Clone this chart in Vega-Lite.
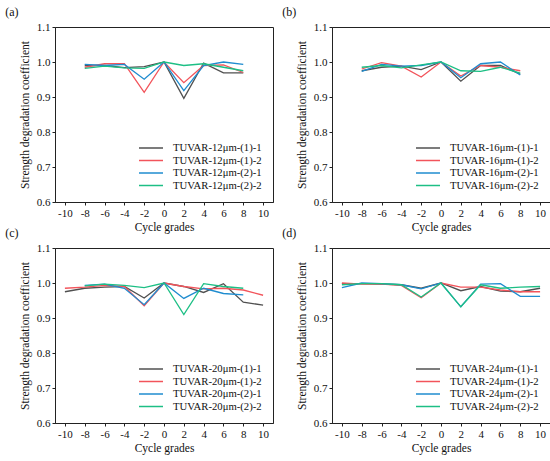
{
  "$schema": "https://vega.github.io/schema/vega-lite/v6.json",
  "padding": {"left": 4, "top": 5, "right": 3, "bottom": 3},
  "data": {
    "values": [
      {"p": "a", "s": "TUVAR-12μm-(1)-1", "x": -8, "y": 0.99},
      {"p": "a", "s": "TUVAR-12μm-(1)-1", "x": -6, "y": 0.99},
      {"p": "a", "s": "TUVAR-12μm-(1)-1", "x": -4, "y": 0.984},
      {"p": "a", "s": "TUVAR-12μm-(1)-1", "x": -2, "y": 0.987},
      {"p": "a", "s": "TUVAR-12μm-(1)-1", "x": 0, "y": 1.0},
      {"p": "a", "s": "TUVAR-12μm-(1)-1", "x": 2, "y": 0.896},
      {"p": "a", "s": "TUVAR-12μm-(1)-1", "x": 4, "y": 0.997},
      {"p": "a", "s": "TUVAR-12μm-(1)-1", "x": 6, "y": 0.969},
      {"p": "a", "s": "TUVAR-12μm-(1)-1", "x": 8, "y": 0.969},
      {"p": "a", "s": "TUVAR-12μm-(1)-2", "x": -8, "y": 0.985},
      {"p": "a", "s": "TUVAR-12μm-(1)-2", "x": -6, "y": 0.995},
      {"p": "a", "s": "TUVAR-12μm-(1)-2", "x": -4, "y": 0.995},
      {"p": "a", "s": "TUVAR-12μm-(1)-2", "x": -2, "y": 0.913},
      {"p": "a", "s": "TUVAR-12μm-(1)-2", "x": 0, "y": 1.0},
      {"p": "a", "s": "TUVAR-12μm-(1)-2", "x": 2, "y": 0.941},
      {"p": "a", "s": "TUVAR-12μm-(1)-2", "x": 4, "y": 0.99},
      {"p": "a", "s": "TUVAR-12μm-(1)-2", "x": 6, "y": 0.992},
      {"p": "a", "s": "TUVAR-12μm-(1)-2", "x": 8, "y": 0.97},
      {"p": "a", "s": "TUVAR-12μm-(2)-1", "x": -8, "y": 0.993},
      {"p": "a", "s": "TUVAR-12μm-(2)-1", "x": -6, "y": 0.99},
      {"p": "a", "s": "TUVAR-12μm-(2)-1", "x": -4, "y": 0.993},
      {"p": "a", "s": "TUVAR-12μm-(2)-1", "x": -2, "y": 0.951},
      {"p": "a", "s": "TUVAR-12μm-(2)-1", "x": 0, "y": 1.0},
      {"p": "a", "s": "TUVAR-12μm-(2)-1", "x": 2, "y": 0.918},
      {"p": "a", "s": "TUVAR-12μm-(2)-1", "x": 4, "y": 0.99},
      {"p": "a", "s": "TUVAR-12μm-(2)-1", "x": 6, "y": 1.0},
      {"p": "a", "s": "TUVAR-12μm-(2)-1", "x": 8, "y": 0.993},
      {"p": "a", "s": "TUVAR-12μm-(2)-2", "x": -8, "y": 0.982},
      {"p": "a", "s": "TUVAR-12μm-(2)-2", "x": -6, "y": 0.988},
      {"p": "a", "s": "TUVAR-12μm-(2)-2", "x": -4, "y": 0.983},
      {"p": "a", "s": "TUVAR-12μm-(2)-2", "x": -2, "y": 0.982},
      {"p": "a", "s": "TUVAR-12μm-(2)-2", "x": 0, "y": 1.0},
      {"p": "a", "s": "TUVAR-12μm-(2)-2", "x": 2, "y": 0.99},
      {"p": "a", "s": "TUVAR-12μm-(2)-2", "x": 4, "y": 0.995},
      {"p": "a", "s": "TUVAR-12μm-(2)-2", "x": 6, "y": 0.985},
      {"p": "a", "s": "TUVAR-12μm-(2)-2", "x": 8, "y": 0.975},

      {"p": "b", "s": "TUVAR-16μm-(1)-1", "x": -8, "y": 0.975},
      {"p": "b", "s": "TUVAR-16μm-(1)-1", "x": -6, "y": 0.985},
      {"p": "b", "s": "TUVAR-16μm-(1)-1", "x": -4, "y": 0.988},
      {"p": "b", "s": "TUVAR-16μm-(1)-1", "x": -2, "y": 0.978},
      {"p": "b", "s": "TUVAR-16μm-(1)-1", "x": 0, "y": 1.0},
      {"p": "b", "s": "TUVAR-16μm-(1)-1", "x": 2, "y": 0.945},
      {"p": "b", "s": "TUVAR-16μm-(1)-1", "x": 4, "y": 0.99},
      {"p": "b", "s": "TUVAR-16μm-(1)-1", "x": 6, "y": 0.99},
      {"p": "b", "s": "TUVAR-16μm-(1)-1", "x": 8, "y": 0.965},
      {"p": "b", "s": "TUVAR-16μm-(1)-2", "x": -8, "y": 0.98},
      {"p": "b", "s": "TUVAR-16μm-(1)-2", "x": -6, "y": 0.998},
      {"p": "b", "s": "TUVAR-16μm-(1)-2", "x": -4, "y": 0.988},
      {"p": "b", "s": "TUVAR-16μm-(1)-2", "x": -2, "y": 0.957},
      {"p": "b", "s": "TUVAR-16μm-(1)-2", "x": 0, "y": 1.0},
      {"p": "b", "s": "TUVAR-16μm-(1)-2", "x": 2, "y": 0.96},
      {"p": "b", "s": "TUVAR-16μm-(1)-2", "x": 4, "y": 0.99},
      {"p": "b", "s": "TUVAR-16μm-(1)-2", "x": 6, "y": 0.985},
      {"p": "b", "s": "TUVAR-16μm-(1)-2", "x": 8, "y": 0.975},
      {"p": "b", "s": "TUVAR-16μm-(2)-1", "x": -8, "y": 0.973},
      {"p": "b", "s": "TUVAR-16μm-(2)-1", "x": -6, "y": 0.993},
      {"p": "b", "s": "TUVAR-16μm-(2)-1", "x": -4, "y": 0.988},
      {"p": "b", "s": "TUVAR-16μm-(2)-1", "x": -2, "y": 0.99},
      {"p": "b", "s": "TUVAR-16μm-(2)-1", "x": 0, "y": 1.0},
      {"p": "b", "s": "TUVAR-16μm-(2)-1", "x": 2, "y": 0.955},
      {"p": "b", "s": "TUVAR-16μm-(2)-1", "x": 4, "y": 0.995},
      {"p": "b", "s": "TUVAR-16μm-(2)-1", "x": 6, "y": 1.0},
      {"p": "b", "s": "TUVAR-16μm-(2)-1", "x": 8, "y": 0.963},
      {"p": "b", "s": "TUVAR-16μm-(2)-2", "x": -8, "y": 0.985},
      {"p": "b", "s": "TUVAR-16μm-(2)-2", "x": -6, "y": 0.99},
      {"p": "b", "s": "TUVAR-16μm-(2)-2", "x": -4, "y": 0.983},
      {"p": "b", "s": "TUVAR-16μm-(2)-2", "x": -2, "y": 0.992},
      {"p": "b", "s": "TUVAR-16μm-(2)-2", "x": 0, "y": 1.0},
      {"p": "b", "s": "TUVAR-16μm-(2)-2", "x": 2, "y": 0.975},
      {"p": "b", "s": "TUVAR-16μm-(2)-2", "x": 4, "y": 0.973},
      {"p": "b", "s": "TUVAR-16μm-(2)-2", "x": 6, "y": 0.985},
      {"p": "b", "s": "TUVAR-16μm-(2)-2", "x": 8, "y": 0.968},

      {"p": "c", "s": "TUVAR-20μm-(1)-1", "x": -10, "y": 0.975},
      {"p": "c", "s": "TUVAR-20μm-(1)-1", "x": -8, "y": 0.985},
      {"p": "c", "s": "TUVAR-20μm-(1)-1", "x": -6, "y": 0.988},
      {"p": "c", "s": "TUVAR-20μm-(1)-1", "x": -4, "y": 0.99},
      {"p": "c", "s": "TUVAR-20μm-(1)-1", "x": -2, "y": 0.957},
      {"p": "c", "s": "TUVAR-20μm-(1)-1", "x": 0, "y": 1.0},
      {"p": "c", "s": "TUVAR-20μm-(1)-1", "x": 2, "y": 0.99},
      {"p": "c", "s": "TUVAR-20μm-(1)-1", "x": 4, "y": 0.973},
      {"p": "c", "s": "TUVAR-20μm-(1)-1", "x": 6, "y": 0.998},
      {"p": "c", "s": "TUVAR-20μm-(1)-1", "x": 8, "y": 0.945},
      {"p": "c", "s": "TUVAR-20μm-(1)-1", "x": 10, "y": 0.937},
      {"p": "c", "s": "TUVAR-20μm-(1)-2", "x": -10, "y": 0.985},
      {"p": "c", "s": "TUVAR-20μm-(1)-2", "x": -8, "y": 0.988},
      {"p": "c", "s": "TUVAR-20μm-(1)-2", "x": -6, "y": 0.993},
      {"p": "c", "s": "TUVAR-20μm-(1)-2", "x": -4, "y": 0.99},
      {"p": "c", "s": "TUVAR-20μm-(1)-2", "x": -2, "y": 0.935},
      {"p": "c", "s": "TUVAR-20μm-(1)-2", "x": 0, "y": 1.0},
      {"p": "c", "s": "TUVAR-20μm-(1)-2", "x": 2, "y": 0.99},
      {"p": "c", "s": "TUVAR-20μm-(1)-2", "x": 4, "y": 0.983},
      {"p": "c", "s": "TUVAR-20μm-(1)-2", "x": 6, "y": 0.985},
      {"p": "c", "s": "TUVAR-20μm-(1)-2", "x": 8, "y": 0.98},
      {"p": "c", "s": "TUVAR-20μm-(1)-2", "x": 10, "y": 0.965},
      {"p": "c", "s": "TUVAR-20μm-(2)-1", "x": -8, "y": 0.993},
      {"p": "c", "s": "TUVAR-20μm-(2)-1", "x": -6, "y": 0.997},
      {"p": "c", "s": "TUVAR-20μm-(2)-1", "x": -4, "y": 0.985},
      {"p": "c", "s": "TUVAR-20μm-(2)-1", "x": -2, "y": 0.938},
      {"p": "c", "s": "TUVAR-20μm-(2)-1", "x": 0, "y": 1.0},
      {"p": "c", "s": "TUVAR-20μm-(2)-1", "x": 2, "y": 0.956},
      {"p": "c", "s": "TUVAR-20μm-(2)-1", "x": 4, "y": 0.985},
      {"p": "c", "s": "TUVAR-20μm-(2)-1", "x": 6, "y": 0.97},
      {"p": "c", "s": "TUVAR-20μm-(2)-1", "x": 8, "y": 0.966},
      {"p": "c", "s": "TUVAR-20μm-(2)-2", "x": -8, "y": 0.992},
      {"p": "c", "s": "TUVAR-20μm-(2)-2", "x": -6, "y": 0.997},
      {"p": "c", "s": "TUVAR-20μm-(2)-2", "x": -4, "y": 0.993},
      {"p": "c", "s": "TUVAR-20μm-(2)-2", "x": -2, "y": 0.987},
      {"p": "c", "s": "TUVAR-20μm-(2)-2", "x": 0, "y": 1.0},
      {"p": "c", "s": "TUVAR-20μm-(2)-2", "x": 2, "y": 0.91},
      {"p": "c", "s": "TUVAR-20μm-(2)-2", "x": 4, "y": 0.998},
      {"p": "c", "s": "TUVAR-20μm-(2)-2", "x": 6, "y": 0.99},
      {"p": "c", "s": "TUVAR-20μm-(2)-2", "x": 8, "y": 0.985},

      {"p": "d", "s": "TUVAR-24μm-(1)-1", "x": -10, "y": 0.998},
      {"p": "d", "s": "TUVAR-24μm-(1)-1", "x": -8, "y": 0.998},
      {"p": "d", "s": "TUVAR-24μm-(1)-1", "x": -6, "y": 0.997},
      {"p": "d", "s": "TUVAR-24μm-(1)-1", "x": -4, "y": 0.995},
      {"p": "d", "s": "TUVAR-24μm-(1)-1", "x": -2, "y": 0.985},
      {"p": "d", "s": "TUVAR-24μm-(1)-1", "x": 0, "y": 1.0},
      {"p": "d", "s": "TUVAR-24μm-(1)-1", "x": 2, "y": 0.978},
      {"p": "d", "s": "TUVAR-24μm-(1)-1", "x": 4, "y": 0.99},
      {"p": "d", "s": "TUVAR-24μm-(1)-1", "x": 6, "y": 0.977},
      {"p": "d", "s": "TUVAR-24μm-(1)-1", "x": 8, "y": 0.975},
      {"p": "d", "s": "TUVAR-24μm-(1)-1", "x": 10, "y": 0.985},
      {"p": "d", "s": "TUVAR-24μm-(1)-2", "x": -10, "y": 1.0},
      {"p": "d", "s": "TUVAR-24μm-(1)-2", "x": -8, "y": 0.997},
      {"p": "d", "s": "TUVAR-24μm-(1)-2", "x": -6, "y": 0.997},
      {"p": "d", "s": "TUVAR-24μm-(1)-2", "x": -4, "y": 0.993},
      {"p": "d", "s": "TUVAR-24μm-(1)-2", "x": -2, "y": 0.958},
      {"p": "d", "s": "TUVAR-24μm-(1)-2", "x": 0, "y": 1.0},
      {"p": "d", "s": "TUVAR-24μm-(1)-2", "x": 2, "y": 0.988},
      {"p": "d", "s": "TUVAR-24μm-(1)-2", "x": 4, "y": 0.988},
      {"p": "d", "s": "TUVAR-24μm-(1)-2", "x": 6, "y": 0.98},
      {"p": "d", "s": "TUVAR-24μm-(1)-2", "x": 8, "y": 0.975},
      {"p": "d", "s": "TUVAR-24μm-(1)-2", "x": 10, "y": 0.975},
      {"p": "d", "s": "TUVAR-24μm-(2)-1", "x": -10, "y": 0.987},
      {"p": "d", "s": "TUVAR-24μm-(2)-1", "x": -8, "y": 1.0},
      {"p": "d", "s": "TUVAR-24μm-(2)-1", "x": -6, "y": 0.998},
      {"p": "d", "s": "TUVAR-24μm-(2)-1", "x": -4, "y": 0.995},
      {"p": "d", "s": "TUVAR-24μm-(2)-1", "x": -2, "y": 0.983},
      {"p": "d", "s": "TUVAR-24μm-(2)-1", "x": 0, "y": 1.0},
      {"p": "d", "s": "TUVAR-24μm-(2)-1", "x": 2, "y": 0.932},
      {"p": "d", "s": "TUVAR-24μm-(2)-1", "x": 4, "y": 0.997},
      {"p": "d", "s": "TUVAR-24μm-(2)-1", "x": 6, "y": 0.998},
      {"p": "d", "s": "TUVAR-24μm-(2)-1", "x": 8, "y": 0.962},
      {"p": "d", "s": "TUVAR-24μm-(2)-1", "x": 10, "y": 0.962},
      {"p": "d", "s": "TUVAR-24μm-(2)-2", "x": -10, "y": 0.995},
      {"p": "d", "s": "TUVAR-24μm-(2)-2", "x": -8, "y": 0.998},
      {"p": "d", "s": "TUVAR-24μm-(2)-2", "x": -6, "y": 0.998},
      {"p": "d", "s": "TUVAR-24μm-(2)-2", "x": -4, "y": 0.995},
      {"p": "d", "s": "TUVAR-24μm-(2)-2", "x": -2, "y": 0.96},
      {"p": "d", "s": "TUVAR-24μm-(2)-2", "x": 0, "y": 1.0},
      {"p": "d", "s": "TUVAR-24μm-(2)-2", "x": 2, "y": 0.932},
      {"p": "d", "s": "TUVAR-24μm-(2)-2", "x": 4, "y": 0.995},
      {"p": "d", "s": "TUVAR-24μm-(2)-2", "x": 6, "y": 0.985},
      {"p": "d", "s": "TUVAR-24μm-(2)-2", "x": 8, "y": 0.988},
      {"p": "d", "s": "TUVAR-24μm-(2)-2", "x": 10, "y": 0.99}
    ]
  },
  "spacing": -7,
  "resolve": {"scale": {"color": "independent"}, "legend": {"color": "independent"}},
  "vconcat": [
    {
      "spacing": 7,
      "resolve": {"scale": {"color": "independent"}, "legend": {"color": "independent"}},
      "hconcat": [
        {
          "width": 218, "height": 175,
          "title": "(a)",
          "transform": [{"filter": "datum.p == 'a'"}],
          "mark": {"type": "line", "strokeWidth": 1.3},
          "encoding": {
            "x": {"field": "x", "type": "quantitative", "scale": {"domain": [-11, 11]}, "axis": {"values": [-10, -8, -6, -4, -2, 0, 2, 4, 6, 8, 10], "labelExpr": "datum.value + ''", "title": "Cycle grades"}},
            "y": {"field": "y", "type": "quantitative", "scale": {"domain": [0.6, 1.1]}, "axis": {"values": [0.6, 0.7, 0.8, 0.9, 1.0, 1.1], "format": ".1f", "title": "Strength degradation coefficient"}},
            "color": {"field": "s", "type": "nominal", "title": null,
              "scale": {"domain": ["TUVAR-12μm-(1)-1", "TUVAR-12μm-(1)-2", "TUVAR-12μm-(2)-1", "TUVAR-12μm-(2)-2"], "range": ["#505050", "#f2545b", "#1f8ccf", "#1dbf85"]}}
          }
        },
        {
          "width": 218, "height": 175,
          "title": "(b)",
          "transform": [{"filter": "datum.p == 'b'"}],
          "mark": {"type": "line", "strokeWidth": 1.3},
          "encoding": {
            "x": {"field": "x", "type": "quantitative", "scale": {"domain": [-11, 11]}, "axis": {"values": [-10, -8, -6, -4, -2, 0, 2, 4, 6, 8, 10], "labelExpr": "datum.value + ''", "title": "Cycle grades"}},
            "y": {"field": "y", "type": "quantitative", "scale": {"domain": [0.6, 1.1]}, "axis": {"values": [0.6, 0.7, 0.8, 0.9, 1.0, 1.1], "format": ".1f", "title": "Strength degradation coefficient"}},
            "color": {"field": "s", "type": "nominal", "title": null,
              "scale": {"domain": ["TUVAR-16μm-(1)-1", "TUVAR-16μm-(1)-2", "TUVAR-16μm-(2)-1", "TUVAR-16μm-(2)-2"], "range": ["#505050", "#f2545b", "#1f8ccf", "#1dbf85"]}}
          }
        }
      ]
    },
    {
      "spacing": 7,
      "resolve": {"scale": {"color": "independent"}, "legend": {"color": "independent"}},
      "hconcat": [
        {
          "width": 218, "height": 175,
          "title": "(c)",
          "transform": [{"filter": "datum.p == 'c'"}],
          "mark": {"type": "line", "strokeWidth": 1.3},
          "encoding": {
            "x": {"field": "x", "type": "quantitative", "scale": {"domain": [-11, 11]}, "axis": {"values": [-10, -8, -6, -4, -2, 0, 2, 4, 6, 8, 10], "labelExpr": "datum.value + ''", "title": "Cycle grades"}},
            "y": {"field": "y", "type": "quantitative", "scale": {"domain": [0.6, 1.1]}, "axis": {"values": [0.6, 0.7, 0.8, 0.9, 1.0, 1.1], "format": ".1f", "title": "Strength degradation coefficient"}},
            "color": {"field": "s", "type": "nominal", "title": null,
              "scale": {"domain": ["TUVAR-20μm-(1)-1", "TUVAR-20μm-(1)-2", "TUVAR-20μm-(2)-1", "TUVAR-20μm-(2)-2"], "range": ["#505050", "#f2545b", "#1f8ccf", "#1dbf85"]}}
          }
        },
        {
          "width": 218, "height": 175,
          "title": "(d)",
          "transform": [{"filter": "datum.p == 'd'"}],
          "mark": {"type": "line", "strokeWidth": 1.3},
          "encoding": {
            "x": {"field": "x", "type": "quantitative", "scale": {"domain": [-11, 11]}, "axis": {"values": [-10, -8, -6, -4, -2, 0, 2, 4, 6, 8, 10], "labelExpr": "datum.value + ''", "title": "Cycle grades"}},
            "y": {"field": "y", "type": "quantitative", "scale": {"domain": [0.6, 1.1]}, "axis": {"values": [0.6, 0.7, 0.8, 0.9, 1.0, 1.1], "format": ".1f", "title": "Strength degradation coefficient"}},
            "color": {"field": "s", "type": "nominal", "title": null,
              "scale": {"domain": ["TUVAR-24μm-(1)-1", "TUVAR-24μm-(1)-2", "TUVAR-24μm-(2)-1", "TUVAR-24μm-(2)-2"], "range": ["#505050", "#f2545b", "#1f8ccf", "#1dbf85"]}}
          }
        }
      ]
    }
  ],
  "config": {
    "font": "Liberation Serif",
    "view": {"stroke": "#222222", "strokeWidth": 1},
    "title": {"anchor": "start", "fontSize": 12, "fontWeight": "normal", "color": "#111111", "dx": -14, "offset": 2},
    "axis": {
      "grid": false,
      "domainColor": "#222222",
      "tickColor": "#222222",
      "tickSize": 3,
      "labelFontSize": 11,
      "labelColor": "#111111",
      "labelPadding": 2,
      "titleFontSize": 11.5,
      "titleFontWeight": "normal",
      "titleColor": "#111111"
    },
    "axisY": {"titlePadding": 6, "labelFlush": false},
    "axisX": {"titlePadding": 3, "labelFlush": false},
    "legend": {
      "orient": "bottom-right",
      "offset": 11,
      "padding": 0,
      "symbolType": "M-2,0H2",
      "symbolSize": 144,
      "symbolStrokeWidth": 1.5,
      "labelFontSize": 10.7,
      "labelColor": "#111111",
      "labelOffset": 15,
      "rowPadding": 0.5
    }
  }
}
